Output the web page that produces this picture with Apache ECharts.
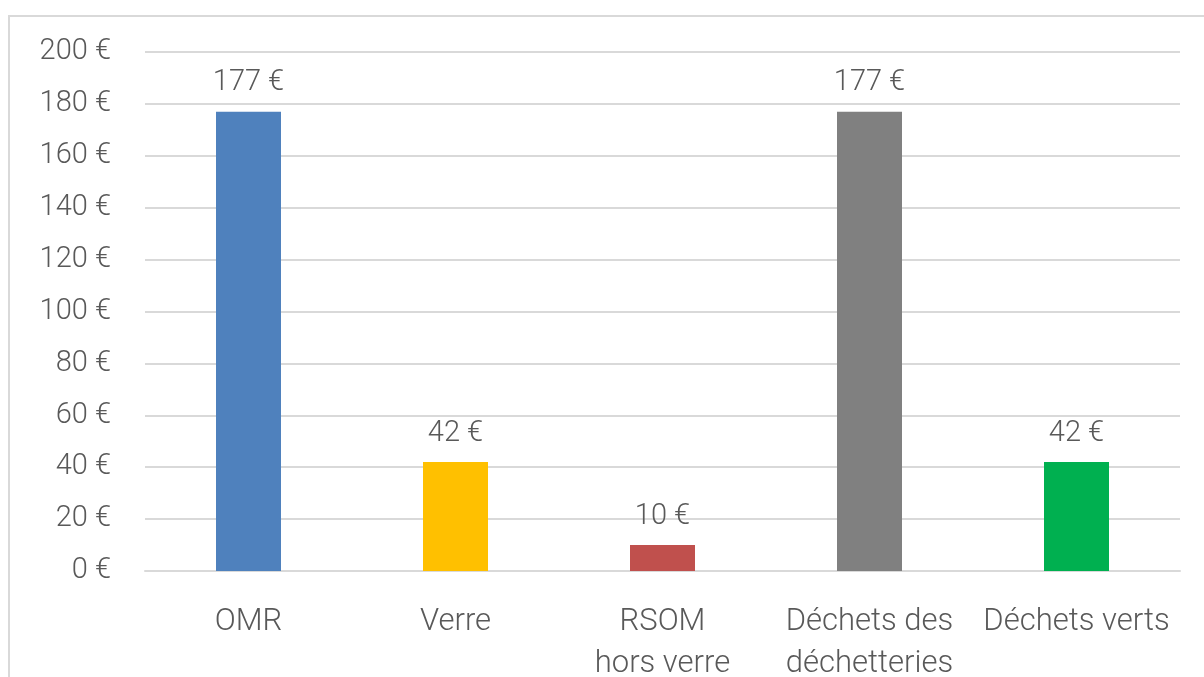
<!DOCTYPE html>
<html>
<head>
<meta charset="utf-8">
<script src="https://cdn.jsdelivr.net/npm/echarts@6/dist/echarts.min.js"></script>
<style>
    html, body {
        margin: 0;
        padding: 0;
        background: #fff;
        overflow: hidden;
    }
    .frame {
        position: absolute;
        left: 8px;
        top: 15px;
        width: 1220px;
        height: 700px;
        border: 2px solid #d9d9d9;
    }
    #chart {
        position: absolute;
        left: 0;
        top: 0;
        width: 1204px;
        height: 677px;
    }
</style>
</head>
<body>
<div class="frame"></div>
<div id="chart"></div>
<script>
// données du graphique
const categories = ["OMR", "Verre", "RSOM\nhors verre", "Déchets des\ndéchetteries", "Déchets verts"];
const values = [177, 42, 10, 177, 42];
const barColors = ["#4f81bd", "#ffc000", "#c0504d", "#808080", "#00b050"];
const yTicks = [0, 20, 40, 60, 80, 100, 120, 140, 160, 180, 200];

const font = "Roboto";
const textColor = "#595959";

const myChart = echarts.init(document.getElementById("chart"));

myChart.setOption({
    animation: false,
    grid: {
        left: 145,
        right: 24,
        top: 52,
        bottom: 106,
        containLabel: false,
        outerBoundsMode: "none",
    },
    xAxis: {
        type: "category",
        data: categories,
        axisLine: { show: true, lineStyle: { color: "#d9d9d9", width: 2 } },
        axisTick: { show: false },
        axisLabel: {
            color: textColor,
            fontFamily: font,
            fontWeight: 300,
            fontSize: 31,
            lineHeight: 42,
            margin: 30,
            interval: 0,
        },
    },
    yAxis: {
        type: "value",
        min: yTicks[0],
        max: yTicks[yTicks.length - 1],
        interval: 20,
        axisLine: { show: false },
        axisTick: { show: false },
        splitLine: { lineStyle: { color: "#d9d9d9", width: 2 } },
        axisLabel: {
            color: textColor,
            fontFamily: font,
            fontWeight: 300,
            fontSize: 29,
            margin: 34,
            formatter: (v) => v + " €",
        },
    },
    series: [
        {
            type: "bar",
            data: values.map((v, i) => ({ value: v, itemStyle: { color: barColors[i] } })),
            barWidth: 65,
            label: {
                show: true,
                position: "top",
                distance: 14,
                color: textColor,
                fontFamily: font,
                fontWeight: 300,
                fontSize: 29,
                formatter: (p) => p.value + " €",
            },
        },
    ],
});
</script>
</body>
</html>
